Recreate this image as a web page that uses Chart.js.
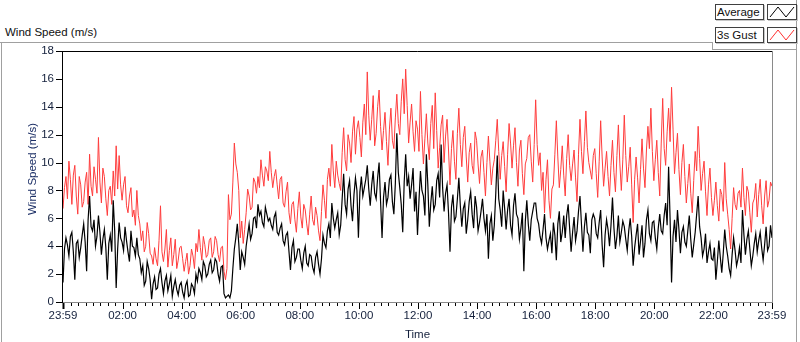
<!DOCTYPE html>
<html>
<head>
<meta charset="utf-8">
<script src="https://cdn.jsdelivr.net/npm/chart.js@4"></script>
<style>
  body { margin: 0; background: #fff; font-family: "Liberation Sans", Arial, sans-serif; }
  #wrap { position: relative; width: 800px; height: 342px; overflow: hidden; background: #fff; }
  #chart { position: absolute; left: 0; top: 0; }
  .ln { position: absolute; background: #a0a0a0; }
  .title { position: absolute; left: 5px; top: 26px; font-size: 11.5px; color: #101010; }
  .lbox { position: absolute; left: 715px; width: 46px; height: 14px; border: 1px solid #404040;
          box-shadow: 1px 1px 0 #c8c8c8; font-size: 11.5px; line-height: 14px; padding-left: 1px; color: #101010; background: #fff; }
  .ibox { position: absolute; left: 767px; width: 28px; height: 14px; border: 1px solid #404040;
          box-shadow: 1px 1px 0 #c8c8c8; background: #fff; }
  .ibox svg { display: block; }
</style>
</head>
<body>
<div id="wrap">
  <div class="title">Wind Speed (m/s)</div>
  <div class="ln" style="left:0;top:42px;width:712px;height:1px"></div>
  <div class="ln" style="left:1px;top:42px;width:1px;height:300px"></div>
  <div class="ln" style="left:796px;top:0;width:1px;height:342px"></div>
  <div class="ln" style="left:712px;top:42px;width:1px;height:8px"></div>
  <div class="ln" style="left:712px;top:49px;width:85px;height:1px"></div>

  <div class="lbox" style="top:4px">Average</div>
  <div class="ibox" style="top:4px"><svg width="28" height="14"><polyline points="2,12 10,2 18,12 26,2" fill="none" stroke="#000" stroke-width="1"/></svg></div>
  <div class="lbox" style="top:27px">3s Gust</div>
  <div class="ibox" style="top:27px"><svg width="28" height="14"><polyline points="2,12 10,2 18,12 26,2" fill="none" stroke="#ff3030" stroke-width="1"/></svg></div>

  <canvas id="chart" width="800" height="342"></canvas>
</div>
<script>
// one reading every 3 minutes starting at 23:59, one row per hour
const stepMin = 3;

const gust = [
  6.7, 8.2, 9.0, 7.4, 10.1, 8.8, 7.0, 9.1, 9.8, 7.6, 6.3, 9.0, 8.4, 6.8, 7.2, 8.6, 9.3, 7.0, 10.6, 8.3,
  7.6, 9.7, 8.8, 7.8, 11.8, 8.6, 7.1, 9.6, 9.0, 7.4, 6.2, 8.0, 8.3, 7.0, 9.4, 7.6, 11.2, 8.1, 10.5, 8.4,
  7.3, 8.4, 9.0, 6.9, 6.4, 7.6, 8.2, 6.1, 6.6, 5.5, 8.0, 6.2, 5.6, 4.4, 5.1, 3.6, 4.0, 5.7, 4.9, 3.5,
  3.3, 2.7, 3.9, 3.1, 2.6, 4.4, 6.9, 3.6, 2.9, 3.8, 5.2, 2.5, 3.7, 4.6, 2.6, 3.4, 4.5, 2.4, 3.0, 3.9,
  4.0, 3.1, 2.2, 2.9, 3.5, 2.0, 2.6, 3.8, 3.3, 2.4, 4.2, 3.6, 5.2, 3.9, 3.0, 4.7, 4.1, 3.2, 3.4, 4.4,
  4.6, 3.2, 3.6, 4.7, 4.4, 3.4, 2.9, 3.9, 4.0, 2.2, 1.6, 2.4, 7.7, 5.9, 6.3, 8.6, 11.4, 9.9, 9.3, 8.0,
  4.6, 5.8, 4.2, 5.2, 6.4, 8.1, 7.6, 6.6, 6.8, 8.9, 8.6, 7.8, 9.0, 8.2, 10.2, 9.1, 8.3, 9.7, 9.4, 8.7,
  10.8, 9.3, 8.2, 9.0, 9.5, 8.4, 7.4, 8.8, 9.0, 7.1, 6.8, 7.9, 8.6, 6.4, 5.6, 7.0, 7.2, 5.9, 5.0, 6.7,
  7.9, 6.1, 5.3, 7.0, 6.6, 5.6, 4.8, 6.3, 7.6, 5.9, 5.5, 6.8, 6.2, 5.1, 4.4, 6.5, 8.4, 7.3, 6.0, 8.8,
  9.6, 8.3, 11.3, 9.4, 8.2, 10.1, 9.1, 8.5, 8.0, 10.7, 12.5, 10.2, 9.4, 12.0, 11.4, 10.0, 12.2, 13.3, 10.6, 12.4,
  13.0, 11.8, 10.4, 12.9, 14.2, 12.0, 16.5, 13.4, 11.6, 13.1, 14.8, 11.2, 12.1, 14.0, 15.2, 12.6, 10.9, 12.3, 13.6, 11.5,
  9.8, 12.4, 13.9, 11.6, 11.0, 13.2, 14.9, 12.8, 12.0, 14.4, 16.0, 13.5, 16.7, 14.1, 11.4, 12.9, 14.2, 12.2, 10.8, 13.0,
  12.4, 10.8, 15.1, 12.0, 9.9, 11.7, 13.5, 11.4, 10.2, 12.8, 14.1, 11.0, 15.0, 12.3, 9.6, 11.1, 12.7, 13.4, 10.0, 11.9,
  13.1, 10.9, 8.4, 11.0, 12.3, 10.1, 8.8, 12.1, 13.9, 11.3, 9.7, 11.8, 12.6, 10.4, 8.6, 10.7, 11.4, 9.8, 9.2, 12.2,
  11.6, 9.9, 8.5, 10.4, 10.9, 9.3, 7.6, 10.0, 11.9, 10.1, 8.4, 9.6, 10.2, 11.6, 13.1, 10.8, 8.8, 10.5, 11.5, 9.7,
  7.9, 10.6, 12.8, 11.4, 9.6, 11.2, 12.5, 10.0, 8.3, 10.9, 11.6, 9.2, 7.7, 9.9, 10.3, 11.8, 12.0, 10.1, 8.6, 11.3,
  14.5, 11.3, 9.8, 10.7, 8.0, 9.3, 6.4, 8.8, 10.2, 7.3, 6.0, 8.1, 8.4, 10.6, 13.0, 10.4, 8.2, 9.5, 11.2, 9.1,
  7.6, 10.3, 12.0, 9.8, 8.7, 9.9, 10.9, 8.9, 7.2, 10.6, 13.1, 10.8, 9.2, 11.5, 13.7, 11.1, 10.0, 9.4, 8.8, 10.5,
  11.0, 9.2, 7.5, 10.1, 13.0, 10.4, 8.3, 9.6, 10.8, 9.0, 7.6, 9.8, 11.6, 9.3, 7.9, 10.5, 12.7, 9.9, 8.0, 10.2,
  13.4, 10.5, 8.6, 9.7, 11.1, 8.4, 5.7, 8.8, 10.4, 8.9, 7.1, 9.5, 11.7, 9.6, 8.2, 10.9, 12.6, 11.0, 13.9, 10.8,
  8.7, 10.2, 11.6, 9.3, 7.6, 11.4, 14.6, 11.0, 9.8, 12.2, 13.9, 11.5, 15.4, 12.4, 9.2, 10.7, 12.1, 9.5, 7.7, 10.0,
  11.3, 9.0, 7.1, 8.5, 9.9, 7.8, 6.4, 8.7, 10.8, 9.4, 12.6, 10.3, 8.0, 9.2, 10.1, 7.9, 6.2, 8.4, 9.6, 7.5,
  6.2, 7.3, 8.6, 6.9, 5.8, 8.1, 7.7, 6.5, 10.0, 7.4, 6.3, 5.2, 3.8, 6.0, 8.2, 7.0, 6.6, 7.8, 8.0, 6.8,
  9.6, 7.5, 6.2, 8.3, 7.9, 6.4, 5.0, 7.1, 7.4, 8.5, 6.1, 7.7, 8.8, 6.9, 5.6, 7.6, 8.7, 6.8, 7.3, 8.6,
  8.3
];

const average = [
  1.4, 3.8, 4.6, 4.1, 3.3, 4.7, 5.0, 3.6, 1.6, 4.2, 4.4, 3.2, 3.9, 4.8, 5.6, 4.3, 2.2, 5.9, 7.6, 5.4,
  5.1, 5.9, 4.0, 4.7, 6.2, 5.0, 3.4, 4.5, 5.2, 3.9, 1.6, 4.2, 4.8, 3.6, 7.3, 5.1, 1.0, 3.8, 5.7, 4.6,
  4.3, 3.7, 5.4, 4.4, 3.6, 2.9, 5.1, 4.0, 3.9, 3.3, 4.6, 3.4, 3.1, 2.1, 2.6, 1.2, 1.5, 2.9, 2.4, 1.6,
  0.2, 1.3, 1.8, 0.9, 1.0, 2.0, 2.4, 1.4, 0.6, 1.5, 1.9, 0.8, 1.3, 1.9, 0.4, 1.1, 1.6, 0.9, 0.5, 1.2,
  1.4, 0.7, 0.3, 1.2, 1.5, 0.4, 0.5, 1.3, 1.1, 0.6, 2.0, 1.5, 2.4, 2.1, 1.6, 2.9, 2.6, 1.8, 2.0, 2.7,
  3.0, 2.1, 2.3, 3.1, 2.9, 2.0, 1.5, 2.5, 2.6, 0.6, 0.3, 0.4, 0.5, 0.3, 0.8, 2.4, 3.8, 4.6, 5.6, 4.2,
  2.3, 3.6, 3.2, 2.7, 4.0, 4.8, 5.6, 4.5, 4.9, 6.0, 6.1, 5.3, 7.0, 6.2, 6.5, 5.7, 5.4, 6.8, 6.3, 5.8,
  6.0, 5.5, 5.2, 6.1, 6.4, 5.0, 4.8, 5.3, 5.6, 4.4, 4.1, 4.8, 5.0, 3.6, 2.3, 3.9, 4.4, 2.9, 3.2, 3.8,
  3.8, 3.0, 2.4, 3.5, 4.0, 2.8, 2.6, 3.4, 3.3, 2.5, 2.1, 3.2, 3.6, 2.7, 2.0, 3.1, 4.8, 4.2, 3.9, 5.1,
  5.6, 4.6, 7.1, 6.0, 5.3, 5.9, 6.4, 4.8, 5.5, 7.4, 9.2, 7.0, 6.3, 8.1, 8.7, 6.9, 5.8, 7.7, 8.9, 8.0,
  4.6, 7.9, 9.0, 7.6, 8.2, 8.8, 9.8, 8.1, 6.9, 8.4, 9.4, 7.8, 7.4, 8.9, 10.0, 7.2, 4.6, 7.5, 8.6, 7.0,
  7.5, 8.8, 9.1, 7.2, 6.3, 8.5, 12.1, 9.3, 8.2, 7.0, 5.0, 8.6, 10.6, 8.3, 9.0, 7.4, 8.4, 9.6, 6.5, 7.9,
  4.8, 7.3, 9.4, 8.0, 7.6, 6.2, 10.6, 8.4, 5.4, 7.1, 8.3, 6.6, 7.0, 8.7, 9.2, 7.5, 11.3, 8.2, 6.5, 7.8,
  8.4, 6.4, 3.6, 6.8, 7.7, 5.8, 6.1, 7.4, 8.9, 6.9, 5.4, 6.7, 7.1, 4.9, 5.9, 7.2, 7.9, 6.3, 5.3, 7.6,
  6.8, 5.1, 5.7, 6.5, 7.4, 6.0, 5.1, 6.3, 3.1, 5.6, 6.2, 4.4, 5.5, 7.8, 10.5, 7.4, 6.6, 5.4, 8.0, 6.7,
  5.2, 6.6, 7.4, 5.5, 4.8, 6.9, 7.8, 6.3, 6.0, 4.5, 5.3, 6.4, 2.2, 5.8, 7.3, 5.6, 4.4, 5.9, 6.5, 7.1,
  7.1, 6.0, 5.6, 4.7, 4.2, 5.2, 6.3, 4.6, 3.8, 4.4, 4.9, 3.5, 5.7, 4.8, 3.0, 5.6, 6.5, 4.3, 5.0, 6.2,
  4.6, 6.2, 7.0, 5.3, 3.6, 5.0, 6.1, 4.4, 5.1, 6.5, 7.6, 5.6, 3.6, 5.4, 6.4, 5.0, 4.8, 3.5, 5.9, 6.3,
  6.0, 4.9, 4.6, 5.7, 6.6, 4.1, 2.5, 4.8, 5.9, 5.2, 4.0, 5.5, 7.5, 5.3, 3.8, 4.7, 6.2, 4.3, 5.0, 5.8,
  5.4, 4.5, 3.7, 5.1, 6.0, 4.7, 2.6, 3.9, 4.8, 5.6, 3.4, 4.4, 5.5, 3.2, 4.2, 5.9, 6.6, 4.9, 4.4, 5.7,
  5.8, 4.6, 3.8, 5.3, 6.3, 5.1, 4.9, 6.2, 7.1, 5.5, 9.7, 6.0, 1.4, 4.7, 5.9, 4.3, 6.6, 5.2, 3.5, 5.0,
  5.4, 4.3, 4.0, 5.1, 6.2, 4.5, 3.2, 4.1, 5.0, 6.3, 7.6, 5.4, 4.6, 3.3, 3.8, 4.9, 2.8, 3.6, 4.2, 3.1,
  3.0, 3.9, 1.6, 2.9, 4.4, 3.2, 2.1, 3.5, 5.2, 4.0, 3.3, 2.4, 1.9, 3.4, 4.6, 3.7, 2.6, 3.1, 3.9, 2.8,
  6.6, 4.8, 3.4, 4.5, 5.1, 3.8, 2.6, 3.3, 4.2, 4.9, 3.6, 4.4, 5.0, 3.9, 3.0, 4.1, 5.4, 3.7, 4.0, 5.5,
  4.6
];

const tickLabels = ['23:59', '02:00', '04:00', '06:00', '08:00', '10:00', '12:00',
                    '14:00', '16:00', '18:00', '20:00', '22:00', '23:59'];

// minutes since the 23:59 start for each labelled tick
const tickPos = tickLabels.map((t, i) => {
  if (i === 0) return 0;
  if (i === tickLabels.length - 1) return 1440;
  const [h, m] = t.split(':').map(Number);
  return h * 60 + m + 1;
});
const minorPos = [];
for (let m = 1; m < 1440; m += 15) minorPos.push(m);

const toPts = arr => arr.map((v, i) => ({ x: i * stepMin, y: v }));
const txt = '#14203c';
const font = { family: 'Liberation Sans', size: 11.5 };

const frame = {
  id: 'frame',
  afterDraw(chart) {
    const { ctx, chartArea: a, scales: { x, y } } = chart;
    ctx.save();
    ctx.strokeStyle = '#000';
    ctx.lineWidth = 1;
    const seg = (x1, y1, x2, y2) => { ctx.beginPath(); ctx.moveTo(x1, y1); ctx.lineTo(x2, y2); ctx.stroke(); };

    minorPos.forEach(m => {
      const px = Math.round(x.getPixelForValue(m)) + 0.5;
      seg(px, a.bottom + 1, px, a.bottom + 4);
    });
    tickPos.forEach((m, i) => {
      const px = Math.round(x.getPixelForValue(m)) + 0.5;
      ctx.lineWidth = i === 0 ? 2 : 1;
      seg(px, a.bottom + 1, px, a.bottom + 7);
    });
    ctx.lineWidth = 1;
    for (let v = 0; v <= 18; v += 2) {
      const py = Math.round(y.getPixelForValue(v)) + 0.5;
      seg(a.left - 7, py, a.left, py);
    }

    // sunken plot frame
    ctx.strokeStyle = '#000';
    seg(a.left - 0.5, a.top + 0.5, a.right, a.top + 0.5);
    seg(a.left - 0.5, a.top, a.left - 0.5, a.bottom);
    ctx.strokeStyle = '#8a8a8a';
    seg(a.left, a.bottom + 0.5, a.right + 1, a.bottom + 0.5);
    seg(a.right + 0.5, a.top, a.right + 0.5, a.bottom + 1);

    // y axis title
    ctx.translate(33, 169);
    ctx.rotate(-Math.PI / 2);
    ctx.fillStyle = '#1c2f66';
    ctx.font = '11.5px "Liberation Sans"';
    ctx.textAlign = 'center';
    ctx.textBaseline = 'middle';
    ctx.fillText('Wind Speed (m/s)', 0, 0);
    ctx.restore();
  }
};

new Chart(document.getElementById('chart'), {
  type: 'line',
  data: {
    datasets: [
      { label: 'Average', data: toPts(average), borderColor: '#000', borderWidth: 1.2 },
      { label: '3s Gust', data: toPts(gust), borderColor: '#ff3c3c', borderWidth: 1 }
    ]
  },
  options: {
    responsive: false,
    animation: false,
    events: [],
    elements: { point: { radius: 0 }, line: { tension: 0 } },
    layout: { padding: { top: 51, right: 28, left: 0, bottom: 0 } },
    plugins: { legend: { display: false }, tooltip: { enabled: false } },
    scales: {
      x: {
        type: 'linear', min: 0, max: 1440,
        afterFit: s => { s.height = 40; },
        afterBuildTicks: s => { s.ticks = tickPos.map(v => ({ value: v })); },
        ticks: {
          autoSkip: false, maxRotation: 0, padding: 7, color: txt, font,
          callback: (v, i) => tickLabels[i]
        },
        grid: { display: false, drawTicks: false },
        border: { display: false },
        title: { display: true, text: 'Time', color: txt, font, padding: { top: 0, bottom: 0 } }
      },
      y: {
        min: 0, max: 18,
        afterFit: s => { s.width = 63; },
        ticks: { stepSize: 2, padding: 9, color: txt, font },
        grid: { display: false, drawTicks: false },
        border: { display: false }
      }
    }
  },
  plugins: [frame]
});
</script>
</body>
</html>
